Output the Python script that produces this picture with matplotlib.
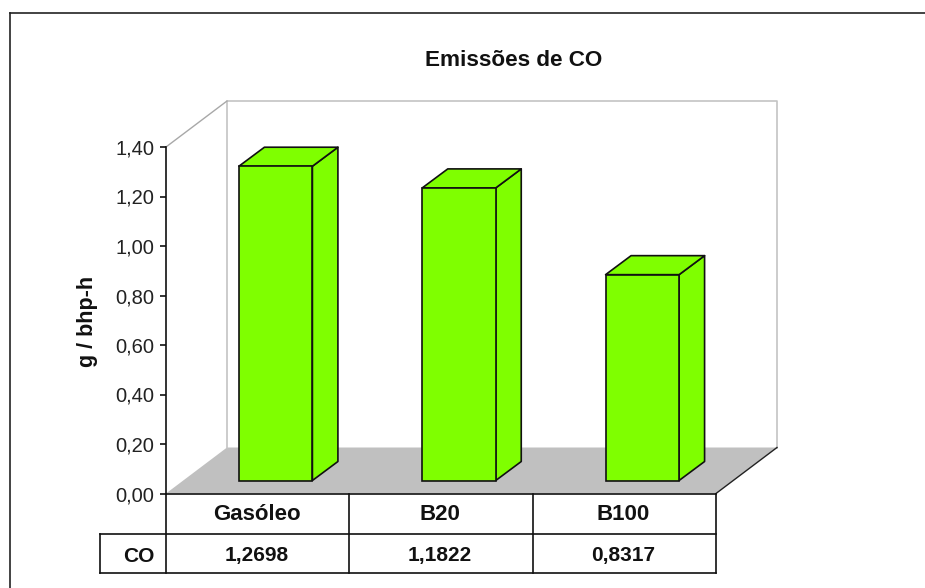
import matplotlib
matplotlib.use("Agg")
import matplotlib.pyplot as plt
from matplotlib.lines import Line2D

plt.rcParams['font.family'] = ['Liberation Sans', 'DejaVu Sans']

categories = ["Gasóleo", "B20", "B100"]
series_name = "CO"
co_values = [1.2698, 1.1822, 0.8317]
y_ticks = [0.0, 0.2, 0.4, 0.6, 0.8, 1.0, 1.2, 1.4]
title = "Emissões de CO"
y_label = "g / bhp-h"

W, H = 925, 588
LIME = "#7FFF00"
FLOOR = "#C0C0C0"
WALL = "#C4C4C4"
INK = "#111111"
LW = 1.2


def fx(px):
    return px / W


def fy(py):
    return 1 - py / H


fig = plt.figure(figsize=(W / 100, H / 100), dpi=100, facecolor="white")

# Axes cover the front plane of the 3D box: three categories wide, 0 to 1.4 tall
left, right, bottom, top = 166, 716, 493.5, 147
ax = fig.add_axes([fx(left), fy(bottom), fx(right) - fx(left), fy(top) - fy(bottom)])
ax.set_xlim(0, 3)
ax.set_ylim(0, 1.4)
ax.patch.set_alpha(0)
for s in ax.spines.values():
    s.set_visible(False)
ax.set_xticks([])

ux = (right - left) / 3      # pixels per category
uy = (bottom - top) / 1.4    # pixels per unit of value
box_dx, box_dy = 61 / ux, 46 / uy          # depth of the whole box
bar_dx, bar_dy = 25.5 / ux, 19 / uy        # depth of a bar
base_dx, base_dy = 18 / ux, 13 / uy        # shift of the bars' front faces
bar_w = 73.5 / ux

# Floor and back wall
ax.fill([0, box_dx, 3 + box_dx, 3], [0, box_dy, box_dy, 0],
        fc=FLOOR, ec="none", clip_on=False, zorder=1)
ax.plot([box_dx, box_dx, 3 + box_dx, 3 + box_dx],
        [box_dy, 1.4 + box_dy, 1.4 + box_dy, box_dy],
        color=WALL, lw=LW, clip_on=False, zorder=1)
ax.plot([0, box_dx], [1.4, 1.4 + box_dy], color="#A8A8A8", lw=1.0, clip_on=False, zorder=1)
ax.plot([3, 3 + box_dx], [0, box_dy], color="#222222", lw=1.0, clip_on=False, zorder=1)

# Bars: front face from the bar call, then the side and top faces
for i, v in enumerate(co_values):
    x0 = i + 0.5 - bar_w / 2 + base_dx
    x1 = x0 + bar_w
    b = base_dy
    ax.bar(x0, v, width=bar_w, bottom=b, align="edge", color=LIME, edgecolor=INK,
           linewidth=LW, clip_on=False, zorder=3)
    ax.fill([x1, x1 + bar_dx, x1 + bar_dx, x1],
            [b, b + bar_dy, b + v + bar_dy, b + v],
            fc=LIME, ec=INK, lw=LW, clip_on=False, zorder=2, joinstyle="round")
    ax.fill([x0, x0 + bar_dx, x1 + bar_dx, x1],
            [b + v, b + v + bar_dy, b + v + bar_dy, b + v],
            fc=LIME, ec=INK, lw=LW, clip_on=False, zorder=2, joinstyle="round")

# Value axis
ax.spines["left"].set_visible(True)
ax.spines["left"].set_color(INK)
ax.spines["left"].set_linewidth(LW)
ax.spines["left"].set_zorder(5)
ax.set_yticks(y_ticks)
ax.set_yticklabels([f"{t:.2f}".replace(".", ",") for t in y_ticks], fontsize=14.5, color="#222222")
ax.tick_params(axis="y", length=4, width=LW, color=INK, pad=4.5)

fig.text(fx(513.5), fy(60), title, ha="center", va="center", fontsize=16.2, fontweight="bold", color=INK)
fig.text(fx(88), fy(321.5), y_label, ha="center", va="center", rotation=90,
         fontsize=15.5, fontweight="bold", color=INK)

# Data table under the box
row0, row1, row2 = 493.5, 534, 573
col = [left + k * ux for k in range(4)]
head = 100


def rule(x0, y0, x1, y1, color=INK, lw=LW):
    fig.add_artist(Line2D([fx(x0), fx(x1)], [fy(y0), fy(y1)], color=color, lw=lw,
                          transform=fig.transFigure, solid_capstyle="projecting"))


rule(left, row0, right, row0)
rule(head, row1, right, row1)
rule(head, row2, right, row2)
rule(head, row1, head, row2)
for c in col:
    rule(c, row0, c, row2)

for i, (name, v) in enumerate(zip(categories, co_values)):
    cx = (col[i] + col[i + 1]) / 2
    fig.text(fx(cx - 1), fy(514), name, ha="center", va="center", fontsize=16,
             fontweight="bold", color=INK)
    fig.text(fx(cx - 1), fy(555), f"{v:.4f}".replace(".", ","), ha="center", va="center",
             fontsize=15, fontweight="bold", color=INK)
fig.text(fx(154), fy(557), series_name, ha="right", va="center", fontsize=15,
         fontweight="bold", color=INK)

# Outer chart border: top and left edges
rule(9.5, 12.5, W, 12.5, color="#222222")
rule(9.5, 12.5, 9.5, H, color="#222222")

fig.savefig("out.png", dpi=100, facecolor="white")
